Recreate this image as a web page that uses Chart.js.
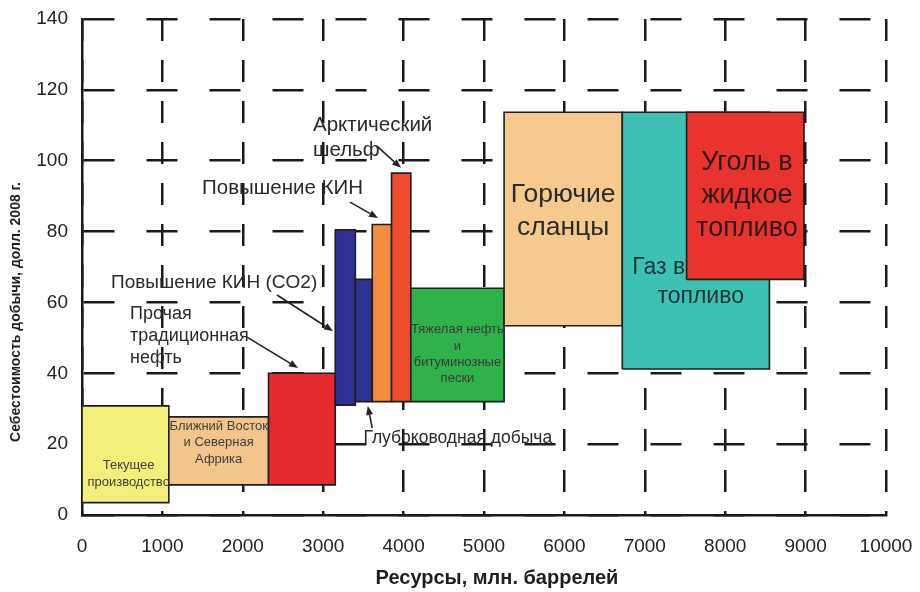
<!DOCTYPE html>
<html>
<head>
<meta charset="utf-8">
<script src="https://cdn.jsdelivr.net/npm/chart.js@4/dist/chart.umd.min.js"></script>
<style>
  html, body { margin: 0; padding: 0; background: #ffffff; }
  #wrap { width: 920px; height: 592px; }
</style>
</head>
<body>
<div id="wrap"><canvas id="c" width="920" height="592"></canvas></div>
<script>
// Resource blocks: span along the resource axis (mln barrels) and production cost range (USD 2008)
const blockNames = [
  'Текущее производство',
  'Ближний Восток и Северная Африка',
  'Прочая традиционная нефть',
  'Повышение КИН (CO2)',
  'Глубоководная добыча',
  'Повышение КИН',
  'Арктический шельф',
  'Тяжелая нефть и битуминозные пески',
  'Горючие сланцы',
  'Газ в жидкое топливо',
  'Уголь в жидкое топливо'
];
const resourceStart = [0, 1080, 2320, 3150, 3400, 3610, 3850, 4090, 5250, 6720, 7520];
const resourceEnd   = [1080, 2320, 3150, 3400, 3610, 3850, 4090, 5250, 6720, 8550, 8980];
const costLow  = [3.5, 8.5, 8.5, 31, 32, 32, 32, 32, 53.4, 41.2, 66.5];
const costHigh = [30.8, 27.7, 40, 80.5, 66.5, 82, 96.5, 64, 113.7, 113.7, 113.7];
const blockColors = ['#f2ef7d', '#f3c58c', '#e52a2d', '#2f3192', '#2e3393', '#f58d3f',
                     '#ee4c2c', '#2fb24a', '#f6c98e', '#3dc1b4', '#e8332f'];

const xTicksMax = 10000;
const yTicksMax = 140;

const FONT = '"Liberation Sans", Arial, sans-serif';

// Text printed inside the blocks (block index, lines, font size, line step,
// vertical centre in cost units, horizontal shift from the block centre in resource units)
const blockLabels = [
  { box: 0, lines: ['Текущее', 'производство'], size: 13, step: 17, y: 11.7, dx: 40, color: '#3f3f3f' },
  { box: 1, lines: ['Ближний Восток', 'и Северная', 'Африка'], size: 13, step: 16.5, y: 20.4, dx: 0, color: '#3f3f3f' },
  { box: 7, lines: ['Тяжелая нефть', 'и', 'битуминозные', 'пески'], size: 13, step: 16.3, y: 45.4, dx: 0, color: '#3a3a3a' },
  { box: 8, lines: ['Горючие', 'сланцы'], size: 26.5, step: 33, y: 85.8, dx: 0, color: '#2a2a2a' },
  { box: 9, lines: ['Газ в жидкое', 'топливо'], size: 23, step: 29, y: 65.6, dx: 60, color: '#1f3433' },
  { box: 10, lines: ['Уголь в', 'жидкое', 'топливо'], size: 27, step: 33, y: 90.3, dx: 20, color: '#2e1a1a' }
];

// Callout captions with arrows (positions in resource / cost units)
const callouts = [
  { lines: ['Арктический', 'шельф'], size: 20.5, x: 2873, y: 110, step: 25, arrow: [3669, 104.1, 3968, 98.0] },
  { lines: ['Повышение КИН'], size: 20.5, x: 1493, y: 92.3, step: 0, arrow: [3333, 88.3, 3682, 83.8] },
  { lines: ['Повышение КИН (CO2)'], size: 19, x: 361, y: 65.5, step: 0, arrow: [2425, 62.1, 3122, 51.9] },
  { lines: ['Прочая', 'традиционная', 'нефть'], size: 18, x: 597, y: 56.7, step: 22, arrow: [2052, 50.2, 2687, 41.5] },
  { lines: ['Глубоководная добыча'], size: 17.5, x: 3500, y: 21.7, step: 0, arrow: [3610, 24.5, 3555, 30.8] }
];

const datasets = blockNames.map((name, i) => ({
  label: name,
  data: [
    { x: resourceStart[i], y: costLow[i] },
    { x: resourceStart[i], y: costHigh[i] },
    { x: resourceEnd[i], y: costHigh[i] },
    { x: resourceEnd[i], y: costLow[i] },
    { x: resourceStart[i], y: costLow[i] }
  ],
  backgroundColor: blockColors[i],
  borderColor: '#1e1e1e',
  borderWidth: 1.6,
  fill: 'shape',
  tension: 0,
  pointRadius: 0,
  pointHoverRadius: 0,
  order: blockNames.length - i
}));

function drawArrow(ctx, x1, y1, x2, y2) {
  const ang = Math.atan2(y2 - y1, x2 - x1);
  const len = 9, half = 3.5;
  const bx = x2 - Math.cos(ang) * len, by = y2 - Math.sin(ang) * len;
  ctx.beginPath();
  ctx.moveTo(x1, y1);
  ctx.lineTo(bx, by);
  ctx.stroke();
  ctx.beginPath();
  ctx.moveTo(x2, y2);
  ctx.lineTo(bx - Math.sin(ang) * half, by + Math.cos(ang) * half);
  ctx.lineTo(bx + Math.sin(ang) * half, by - Math.cos(ang) * half);
  ctx.closePath();
  ctx.fill();
}

const notesPlugin = {
  id: 'notes',
  afterDatasetDraw(chart, args) {
    const { ctx, scales: { x, y } } = chart;
    blockLabels.filter(l => l.box === args.index).forEach(l => {
      const cx = x.getPixelForValue((resourceStart[l.box] + resourceEnd[l.box]) / 2 + l.dx);
      const cy = y.getPixelForValue(l.y);
      const n = l.lines.length;
      ctx.save();
      ctx.font = `${l.size}px ${FONT}`;
      ctx.fillStyle = l.color;
      ctx.textAlign = 'center';
      ctx.textBaseline = 'middle';
      l.lines.forEach((t, k) => ctx.fillText(t, cx, cy + (k - (n - 1) / 2) * l.step));
      ctx.restore();
    });
  },
  afterDatasetsDraw(chart) {
    const { ctx, scales: { x, y } } = chart;
    ctx.save();
    ctx.strokeStyle = '#222222';
    ctx.lineWidth = 1.6;
    ctx.textAlign = 'left';
    ctx.textBaseline = 'middle';
    callouts.forEach(c => {
      const px = x.getPixelForValue(c.x);
      const py = y.getPixelForValue(c.y);
      ctx.font = `${c.size}px ${FONT}`;
      ctx.fillStyle = '#2a2a2a';
      c.lines.forEach((t, k) => ctx.fillText(t, px, py + k * c.step));
      const a = c.arrow;
      ctx.fillStyle = '#222222';
      drawArrow(ctx, x.getPixelForValue(a[0]), y.getPixelForValue(a[1]),
                     x.getPixelForValue(a[2]), y.getPixelForValue(a[3]));
    });
    ctx.restore();
  },
  afterDraw(chart) {
    const { ctx, chartArea } = chart;
    ctx.save();
    ctx.fillStyle = '#1e1e1e';
    ctx.textAlign = 'center';
    ctx.textBaseline = 'middle';
    ctx.font = `bold 20px ${FONT}`;
    ctx.fillText('Ресурсы, млн. баррелей', (chartArea.left + chartArea.right) / 2 + 13, 578);
    ctx.translate(16, (chartArea.top + chartArea.bottom) / 2 + 45);
    ctx.rotate(-Math.PI / 2);
    ctx.font = `bold 14px ${FONT}`;
    ctx.fillText('Себестоимость добычи, долл. 2008 г.', 0, 0);
    ctx.restore();
  }
};

// Fixed axis band sizes; tick-label overhang is absorbed by the layout padding
function fixBand(prop, size) {
  return s => {
    s[prop] = size;
    s.paddingTop = 0; s.paddingBottom = 0; s.paddingLeft = 0; s.paddingRight = 0;
  };
}

new Chart(document.getElementById('c'), {
  type: 'line',
  data: { datasets },
  options: {
    responsive: false,
    animation: false,
    events: [],
    layout: { padding: { top: 19, right: 34, left: 0, bottom: 0 } },
    plugins: {
      legend: { display: false },
      tooltip: { enabled: false },
      filler: { drawTime: 'beforeDatasetDraw' }
    },
    scales: {
      x: {
        type: 'linear',
        min: 0,
        max: xTicksMax,
        afterFit: fixBand('height', 77),
        ticks: {
          stepSize: 1000,
          padding: 20,
          color: '#222222',
          font: { family: FONT, size: 19 },
          callback: v => String(v)
        },
        grid: { color: '#1a1a1a', lineWidth: 2.5, drawTicks: false },
        border: { display: true, color: '#1a1a1a', width: 2.5, dash: [22, 19] }
      },
      y: {
        type: 'linear',
        min: 0,
        max: yTicksMax,
        afterFit: fixBand('width', 82),
        ticks: {
          stepSize: 20,
          padding: 14,
          color: '#222222',
          font: { family: FONT, size: 19 },
          callback: v => String(v)
        },
        grid: { color: '#1a1a1a', lineWidth: 2.5, drawTicks: false },
        border: { display: true, color: '#1a1a1a', width: 2.5, dash: [31, 32] }
      }
    }
  },
  plugins: [notesPlugin]
});
</script>
</body>
</html>
